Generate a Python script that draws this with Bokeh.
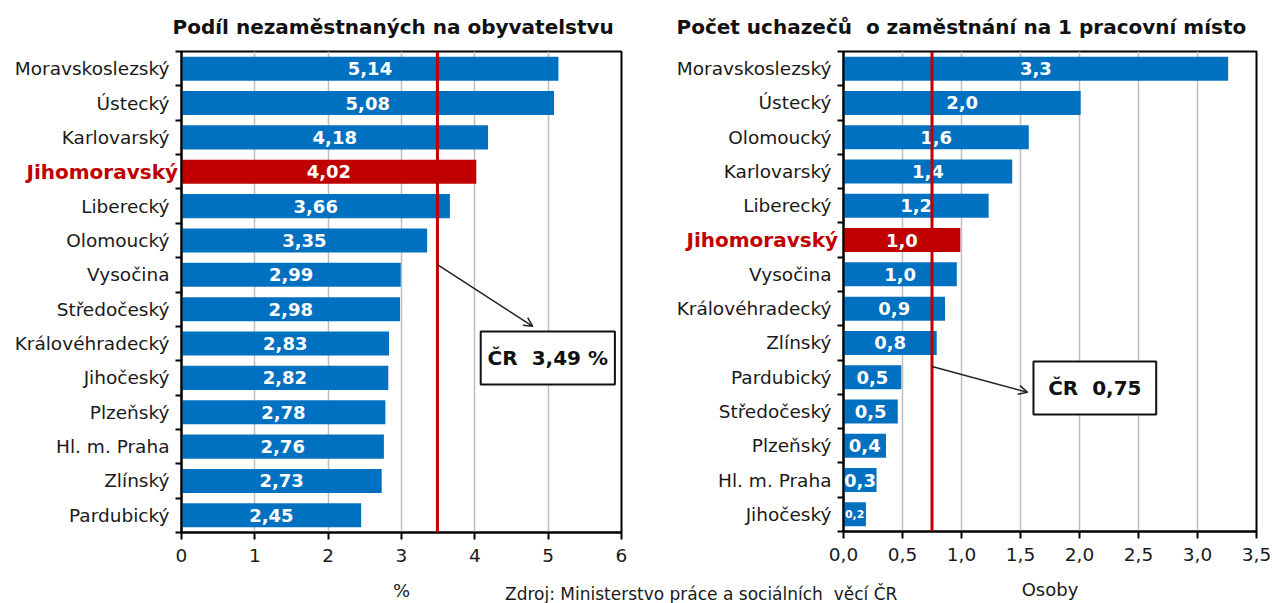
from bokeh.plotting import figure
from bokeh.models import (FixedTicker, Span, Arrow, OpenHead, Label, BoxAnnotation,
                          Title, Div, ColumnDataSource, Range1d)
from bokeh.layouts import row, column
from bokeh.embed import file_html
from bokeh.resources import INLINE
from bokeh.core.properties import value

# ---------------- data ----------------
left_title = "Podíl nezaměstnaných na obyvatelstvu"
left_regions = ["Moravskoslezský", "Ústecký", "Karlovarský", "Jihomoravský", "Liberecký",
                "Olomoucký", "Vysočina", "Středočeský", "Královéhradecký", "Jihočeský",
                "Plzeňský", "Hl. m. Praha", "Zlínský", "Pardubický"]
left_values = [5.14, 5.08, 4.18, 4.02, 3.66, 3.35, 2.99, 2.98, 2.83, 2.82, 2.78, 2.76, 2.73, 2.45]
left_avg = 3.49
left_ticks = [0, 1, 2, 3, 4, 5, 6]
left_tick_labels = ["0", "1", "2", "3", "4", "5", "6"]
left_axis_label = "%"
left_note = "ČR\u00a0 3,49 %"

right_title = "Počet uchazečů\u00a0 o zaměstnání na 1 pracovní místo"
right_regions = ["Moravskoslezský", "Ústecký", "Olomoucký", "Karlovarský", "Liberecký",
                 "Jihomoravský", "Vysočina", "Královéhradecký", "Zlínský", "Pardubický",
                 "Středočeský", "Plzeňský", "Hl. m. Praha", "Jihočeský"]
right_values = [3.26, 2.01, 1.57, 1.43, 1.23, 0.99, 0.96, 0.86, 0.79, 0.49, 0.46, 0.36, 0.28, 0.19]
right_avg = 0.75
right_ticks = [0, 0.5, 1, 1.5, 2, 2.5, 3, 3.5]
right_tick_labels = ["0,0", "0,5", "1,0", "1,5", "2,0", "2,5", "3,0", "3,5"]
right_axis_label = "Osoby"
right_note = "ČR\u00a0 0,75"

highlight = "Jihomoravský"
source_text = "Zdroj: Ministerstvo práce a sociálních\u00a0 věcí ČR"

BLUE = "#0070C0"
RED = "#C00000"
FONT = "DejaVu Sans"
TXT = "#1a1a1a"
FIG_H = 603


def panel(title, regions, values, avg, ticks, tick_labels, axis_label, decimals,
          xmax, note, note_box, arrow, title_offset, borders, frame_w, frame_h):
    n = len(regions)
    ys = [n - 1 - i for i in range(n)]
    labels = [f"{v:.{decimals}f}".replace(".", ",") for v in values]
    colors = [RED if r == highlight else BLUE for r in regions]
    sizes = ["18px" if v >= 0.25 else "11px" for v in values]
    src = ColumnDataSource(dict(y=ys, v=values, mid=[v / 2 for v in values],
                                lab=labels, color=colors, fs=sizes))
    bl, br, bt = borders
    p = figure(frame_width=frame_w, frame_height=frame_h,
               min_border_left=bl, min_border_right=br, min_border_top=bt,
               min_border_bottom=FIG_H - bt - frame_h,
               x_range=Range1d(0, xmax), y_range=Range1d(-0.5, n - 0.5),
               output_backend="svg", toolbar_location=None, background_fill_color="white",
               border_fill_color="white")
    p.add_layout(Title(text=title, align="left", offset=title_offset, standoff=25,
                       text_font=FONT, text_font_size="20px", text_font_style="bold",
                       text_color="#111111"), "above")
    p.outline_line_color = "black"
    p.outline_line_width = 2
    p.xgrid.grid_line_color = "#BFBFBF"
    p.xgrid.grid_line_width = 1.5
    p.ygrid.visible = False

    p.hbar(y="y", left=0, right="v", height=0.7, fill_color="color", line_color=None, source=src)
    p.text(x="mid", y="y", text="lab", text_color="white", text_font=value(FONT),
           text_font_style="bold", text_font_size="fs", text_align="center",
           text_baseline="middle", source=src)

    p.add_layout(Span(location=avg, dimension="height", line_color=RED, line_width=3))

    # axes
    p.xaxis.ticker = FixedTicker(ticks=ticks, minor_ticks=[])
    p.xaxis.major_label_overrides = {t: l for t, l in zip(ticks, tick_labels)}
    p.xaxis.axis_label = axis_label
    p.xaxis.axis_label_text_font_style = "normal"
    p.xaxis.axis_label_text_font = FONT
    p.xaxis.axis_label_text_font_size = "18px"
    p.xaxis.axis_label_text_color = TXT
    p.xaxis.axis_label_standoff = 15
    p.xaxis.major_tick_out = 7
    p.xaxis.major_tick_in = 0
    p.xaxis.major_label_standoff = 9

    p.yaxis.ticker = FixedTicker(ticks=ys, minor_ticks=[k - 0.5 for k in range(n + 1)])
    p.yaxis.major_label_overrides = {y: ("" if r == highlight else r) for y, r in zip(ys, regions)}
    p.yaxis.major_tick_out = 0
    p.yaxis.major_tick_in = 0
    p.yaxis.minor_tick_out = 6
    p.yaxis.minor_tick_in = 0
    p.yaxis.major_label_standoff = 6

    for ax in (p.xaxis, p.yaxis):
        ax.axis_line_color = "black"
        ax.axis_line_width = 2
        ax.major_tick_line_color = "black"
        ax.major_tick_line_width = 2
        ax.minor_tick_line_color = "black"
        ax.minor_tick_line_width = 2
        ax.major_label_text_font = FONT
        ax.major_label_text_font_size = "18.5px"
        ax.major_label_text_color = TXT

    l, r, b, t = note_box
    p.add_layout(BoxAnnotation(left=l, right=r, bottom=b, top=t, fill_color="white", fill_alpha=1,
                               line_color="#111111", line_alpha=1, line_width=2, level="overlay"))
    p.add_layout(Label(x=(l + r) / 2, y=(b + t) / 2, text=note, text_align="center",
                       text_baseline="middle", text_font=FONT, text_font_style="bold",
                       text_font_size="20px", text_color="#111111", level="overlay"))
    xs, ys0, xe, ye = arrow
    p.add_layout(Arrow(x_start=xs, y_start=ys0, x_end=xe, y_end=ye, line_color="#222222",
                       line_width=1.5,
                       end=OpenHead(size=9, line_color="#222222", line_width=1.5)))
    return p


def red_label(right_edge, center_y):
    top = center_y - 11
    return Div(text=highlight, width=right_edge, height=22,
               margin=(top - FIG_H, 0, FIG_H - top - 22, 0),
               styles={"font-family": FONT, "font-size": "20px", "font-weight": "bold",
                       "color": RED, "text-align": "right", "white-space": "nowrap",
                       "line-height": "22px", "position": "relative", "z-index": "5"})


p1 = panel(left_title, left_regions, left_values, left_avg, left_ticks, left_tick_labels,
           left_axis_label, 2, 6, left_note, (4.08, 5.91, 3.81, 5.35),
           (left_avg, 7.3, 4.79, 5.5), -9, (181, 19, 50), 440, 481)
p2 = panel(right_title, right_regions, right_values, right_avg, right_ticks, right_tick_labels,
           right_axis_label, 1, 3.5, right_note, (1.61, 2.65, 2.91, 4.46),
           (right_avg, 4.31, 1.56, 3.56), -167, (203, 16, 49), 413, 480)

red1 = red_label(178, 171)
red2 = red_label(198, 238)

src_div = Div(text=source_text, width=440, height=22, margin=(-22, 0, 0, 505),
              styles={"font-family": FONT, "font-size": "17px", "color": TXT,
                      "white-space": "nowrap", "line-height": "22px"})

layout = column(row(column(p1, red1), column(p2, red2)), src_div)
open("out.html", "w").write(file_html(layout, INLINE))
